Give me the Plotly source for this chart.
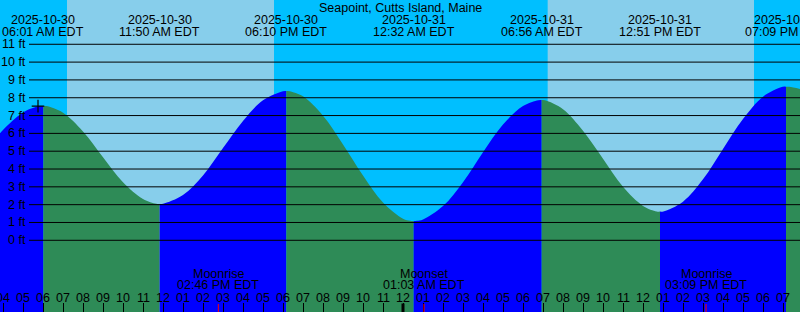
import plotly.graph_objects as go
import pandas as pd

TITLE = "Seapoint, Cutts Island, Maine"
TZ = "EDT"

# High / low tide events
tide_times = ["2025-10-30 06:01", "2025-10-30 11:50", "2025-10-30 18:10",
              "2025-10-31 00:32", "2025-10-31 06:56", "2025-10-31 12:51",
              "2025-10-31 19:09"]

# Tide curve (ft)
curve_times = [
    "2025-10-30 03:30", "2025-10-30 04:00", "2025-10-30 05:00", "2025-10-30 05:50",
    "2025-10-30 06:01",
    "2025-10-30 06:10", "2025-10-30 07:00", "2025-10-30 08:00", "2025-10-30 09:00",
    "2025-10-30 10:00", "2025-10-30 11:00", "2025-10-30 11:40", "2025-10-30 11:50",
    "2025-10-30 12:00", "2025-10-30 13:00", "2025-10-30 14:00", "2025-10-30 15:00",
    "2025-10-30 16:00", "2025-10-30 17:00", "2025-10-30 18:00", "2025-10-30 18:10",
    "2025-10-30 18:20", "2025-10-30 19:00", "2025-10-30 20:00", "2025-10-30 21:00",
    "2025-10-30 22:00", "2025-10-30 23:00", "2025-10-31 00:00", "2025-10-31 00:22",
    "2025-10-31 00:32",
    "2025-10-31 00:42", "2025-10-31 01:00", "2025-10-31 02:00", "2025-10-31 03:00",
    "2025-10-31 04:00", "2025-10-31 05:00", "2025-10-31 06:00", "2025-10-31 06:46",
    "2025-10-31 06:56",
    "2025-10-31 07:06", "2025-10-31 08:00", "2025-10-31 09:00", "2025-10-31 10:00",
    "2025-10-31 11:00", "2025-10-31 12:00", "2025-10-31 12:41", "2025-10-31 12:51",
    "2025-10-31 13:01", "2025-10-31 14:00", "2025-10-31 15:00", "2025-10-31 16:00",
    "2025-10-31 17:00", "2025-10-31 18:00", "2025-10-31 18:59", "2025-10-31 19:09",
    "2025-10-31 19:19", "2025-10-31 20:00",
]
curve_heights = [
    5.54, 6.19, 7.17, 7.53,
    7.54,
    7.53, 7.16, 6.11, 4.66, 3.26, 2.32, 2.05, 2.04,
    2.05, 2.54, 3.64, 5.18, 6.70, 7.86, 8.37, 8.38,
    8.37, 8.08, 6.99, 5.38, 3.64, 2.12, 1.21, 1.09,
    1.08,
    1.09, 1.17, 1.92, 3.26, 4.94, 6.50, 7.53, 7.86,
    7.87,
    7.86, 7.36, 6.15, 4.58, 3.00, 1.93, 1.62, 1.61,
    1.62, 2.17, 3.42, 5.12, 6.80, 8.06, 8.61, 8.62,
    8.61, 8.46,
]

# Sun / moon
sunrise_times = ["2025-10-30 07:12", "2025-10-31 07:14"]
sunset_times = ["2025-10-30 17:33", "2025-10-31 17:33"]
moon_times = ["2025-10-30 14:46", "2025-10-31 01:03", "2025-10-31 15:09"]
moon_events = ["Moonrise", "Moonset", "Moonrise"]

# marker (+)
mark_time = ["2025-10-30 05:45"]
mark_height = [7.53]

y_ticks = list(range(0, 12))
X_RANGE = ["2025-10-30 03:51", "2025-10-31 19:51"]
Y_RANGE = [-4.024, 13.485]

W, H = 800, 312
NIGHT = "#00BFFF"
DAY = "#87CEEB"
RISE = "#0000FF"
FALL = "#2E8B57"
FONT = "Liberation Sans, Arial, sans-serif"
FS = 12.5

fig = go.Figure()

# split curve into segments between extremes
ct = [pd.Timestamp(t) for t in curve_times]
breaks = [0] + [ct.index(pd.Timestamp(t)) for t in tide_times] + [len(ct) - 1]
for a, b in zip(breaks[:-1], breaks[1:]):
    if b <= a:
        continue
    xs = curve_times[a:b + 1]
    ys = curve_heights[a:b + 1]
    color = RISE if ys[-1] > ys[0] else FALL
    fig.add_trace(go.Scatter(x=[xs[0], xs[-1]], y=[Y_RANGE[0], Y_RANGE[0]],
                             mode="lines", line=dict(width=0), hoverinfo="skip"))
    fig.add_trace(go.Scatter(x=xs, y=ys, mode="lines", fill="tonexty",
                             fillcolor=color, line=dict(width=0, shape="spline", color=color),
                             hoverinfo="skip"))

fig.add_trace(go.Scatter(x=mark_time, y=mark_height, mode="markers",
                         marker=dict(symbol="cross-thin", size=9,
                                     line=dict(width=1.2, color="black"), color="black")))

shapes = []
for sr, ss in zip(sunrise_times, sunset_times):
    shapes.append(dict(type="rect", xref="x", yref="paper", x0=sr, x1=ss, y0=0, y1=1,
                       fillcolor=DAY, line=dict(width=0), layer="below"))
for v in y_ticks:
    shapes.append(dict(type="line", xref="paper", yref="y", x0=29 / W, x1=1, y0=v, y1=v,
                       line=dict(color="black", width=1), layer="above"))
# midnight thick tick
for d in pd.date_range(X_RANGE[0], X_RANGE[1], freq="D", normalize=True)[1:]:
    shapes.append(dict(type="line", xref="x", yref="paper", x0=d, x1=d, y0=0, y1=8.5 / H,
                       line=dict(color="black", width=3), layer="above"))
for t in moon_times:
    shapes.append(dict(type="line", xref="x", yref="paper", x0=t, x1=t, y0=0, y1=8 / H,
                       line=dict(color="red", width=1), layer="above"))

ann = []
def py(px):
    return 1 - px / H

ann.append(dict(text=TITLE, x=0.5, xref="paper", y=py(7.5), yref="paper",
                showarrow=False, xanchor="center", yanchor="middle"))
for t in tide_times:
    ts = pd.Timestamp(t)
    ann.append(dict(text=ts.strftime("%Y-%m-%d"), x=t, xref="x", y=py(20), yref="paper",
                    showarrow=False, xanchor="center", yanchor="middle"))
    ann.append(dict(text=ts.strftime("%I:%M %p") + " " + TZ, x=t, xref="x", y=py(32),
                    yref="paper", showarrow=False, xanchor="center", yanchor="middle"))
for t, name in zip(moon_times, moon_events):
    ts = pd.Timestamp(t)
    ann.append(dict(text=name, x=t, xref="x", y=py(273.5), yref="paper",
                    showarrow=False, xanchor="center", yanchor="middle"))
    ann.append(dict(text=ts.strftime("%I:%M %p") + " " + TZ, x=t, xref="x", y=py(285),
                    yref="paper", showarrow=False, xanchor="center", yanchor="middle"))
for h in pd.date_range("2025-10-30 03:00", "2025-10-31 20:00", freq="h"):
    ann.append(dict(text=h.strftime("%I"), x=h, xref="x", y=py(298), yref="paper",
                    showarrow=False, xanchor="center", yanchor="middle"))
for v in y_ticks:
    ann.append(dict(text=f"{v} ft", x=27.5 / W, xref="paper", y=v, yref="y",
                    showarrow=False, xanchor="right", yanchor="middle"))

fig.update_layout(
    width=W, height=H, margin=dict(l=0, r=0, t=0, b=0, pad=0),
    plot_bgcolor=NIGHT, paper_bgcolor=NIGHT, showlegend=False,
    font=dict(family=FONT, size=FS, color="black"),
    shapes=shapes, annotations=ann,
    xaxis=dict(range=X_RANGE, type="date", showgrid=False, zeroline=False, showline=False,
               ticks="inside", ticklen=9, tickwidth=1, tickcolor="black",
               tick0="2025-10-30 00:00", dtick=3600000, showticklabels=False, fixedrange=True),
    yaxis=dict(range=Y_RANGE, visible=False, fixedrange=True),
)

fig.write_html("out.html")
